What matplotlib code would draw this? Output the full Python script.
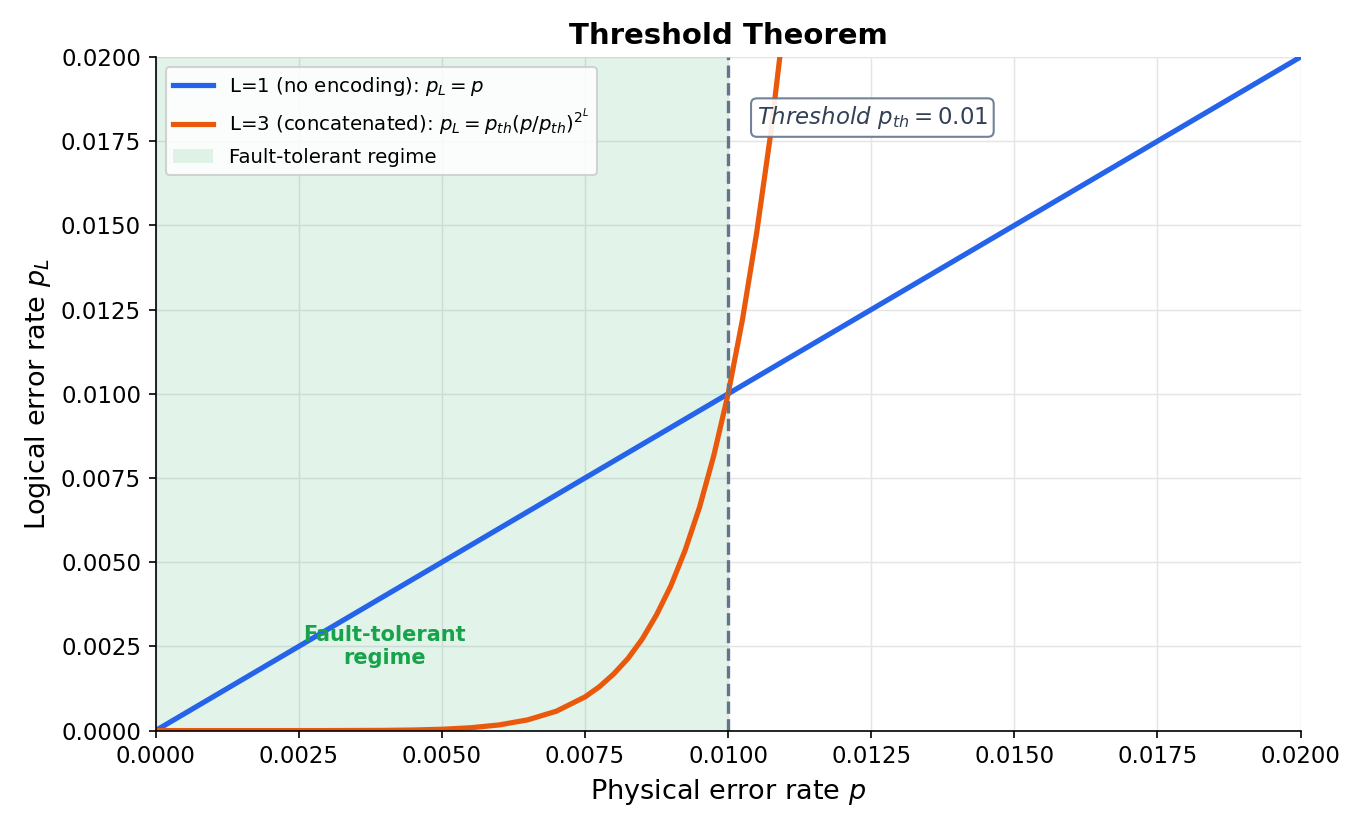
import matplotlib
matplotlib.use("Agg")
import matplotlib.pyplot as plt

# values
p_phys = [0.0, 0.02]
pl_l1 = [0.0, 0.02]
p_l3 = [0.0, 0.002, 0.003, 0.004, 0.0045, 0.005, 0.0055, 0.006, 0.0065, 0.007,
        0.0075, 0.00775, 0.008, 0.00825, 0.0085, 0.00875, 0.009, 0.00925,
        0.0095, 0.00975, 0.01, 0.01025, 0.0105, 0.01075, 0.011]
pl_l3 = [0.0, 0.0000000, 0.0000007, 0.0000066, 0.000017, 0.0000391, 0.0000837,
         0.000168, 0.000319, 0.000576, 0.001, 0.0013, 0.00168, 0.00214, 0.00272,
         0.00344, 0.0043, 0.00536, 0.00663, 0.00817, 0.01, 0.0122, 0.0148,
         0.0178, 0.0214]
p_th = 0.01

fig, ax = plt.subplots(figsize=(9.087, 5.527), dpi=150)
ax.axvspan(0, p_th, color="#16a34a", alpha=0.12, lw=0, label="Fault-tolerant regime")
ax.plot(p_phys, pl_l1, color="#2563eb", lw=2.5, label="L=1 (no encoding): $p_L = p$")
ax.plot(p_l3, pl_l3, color="#ea580c", lw=2.5,
        label="L=3 (concatenated): $p_L = p_{th}(p/p_{th})^{2^L}$")
ax.axvline(p_th, color="#64748b", ls="--", lw=1.6)
ax.text(0.0105, 0.0182, "$\\it{Threshold}\\ p_{th} = 0.01$", fontsize=11, color="#334155",
        va="center", bbox=dict(boxstyle="round,pad=0.25", fc="white", ec="#64748b", alpha=0.9))
ax.text(0.004, 0.0025, "Fault-tolerant\nregime", ha="center", va="center",
        color="#16a34a", fontsize=10, fontweight="bold")

ax.set_xlim(0, 0.02)
ax.set_ylim(0, 0.02)
ax.set_xticks([i * 0.0025 for i in range(9)])
ax.set_yticks([i * 0.0025 for i in range(9)])
ax.xaxis.set_major_formatter(matplotlib.ticker.FormatStrFormatter("%.4f"))
ax.yaxis.set_major_formatter(matplotlib.ticker.FormatStrFormatter("%.4f"))
ax.tick_params(labelsize=11)
ax.grid(True, color="#e5e5e5", lw=0.7)
ax.set_axisbelow(True)
for s in ("top", "right"):
    ax.spines[s].set_visible(False)
ax.set_xlabel("Physical error rate $p$", fontsize=13)
ax.set_ylabel("Logical error rate $p_L$", fontsize=13)
ax.set_title("Threshold Theorem", fontsize=14, fontweight="bold")

h, l = ax.get_legend_handles_labels()
ax.legend([h[1], h[2], h[0]], [l[1], l[2], l[0]], loc="upper left", fontsize=9.5,
          framealpha=0.85)
fig.tight_layout()
fig.savefig("out.png", dpi=150)
